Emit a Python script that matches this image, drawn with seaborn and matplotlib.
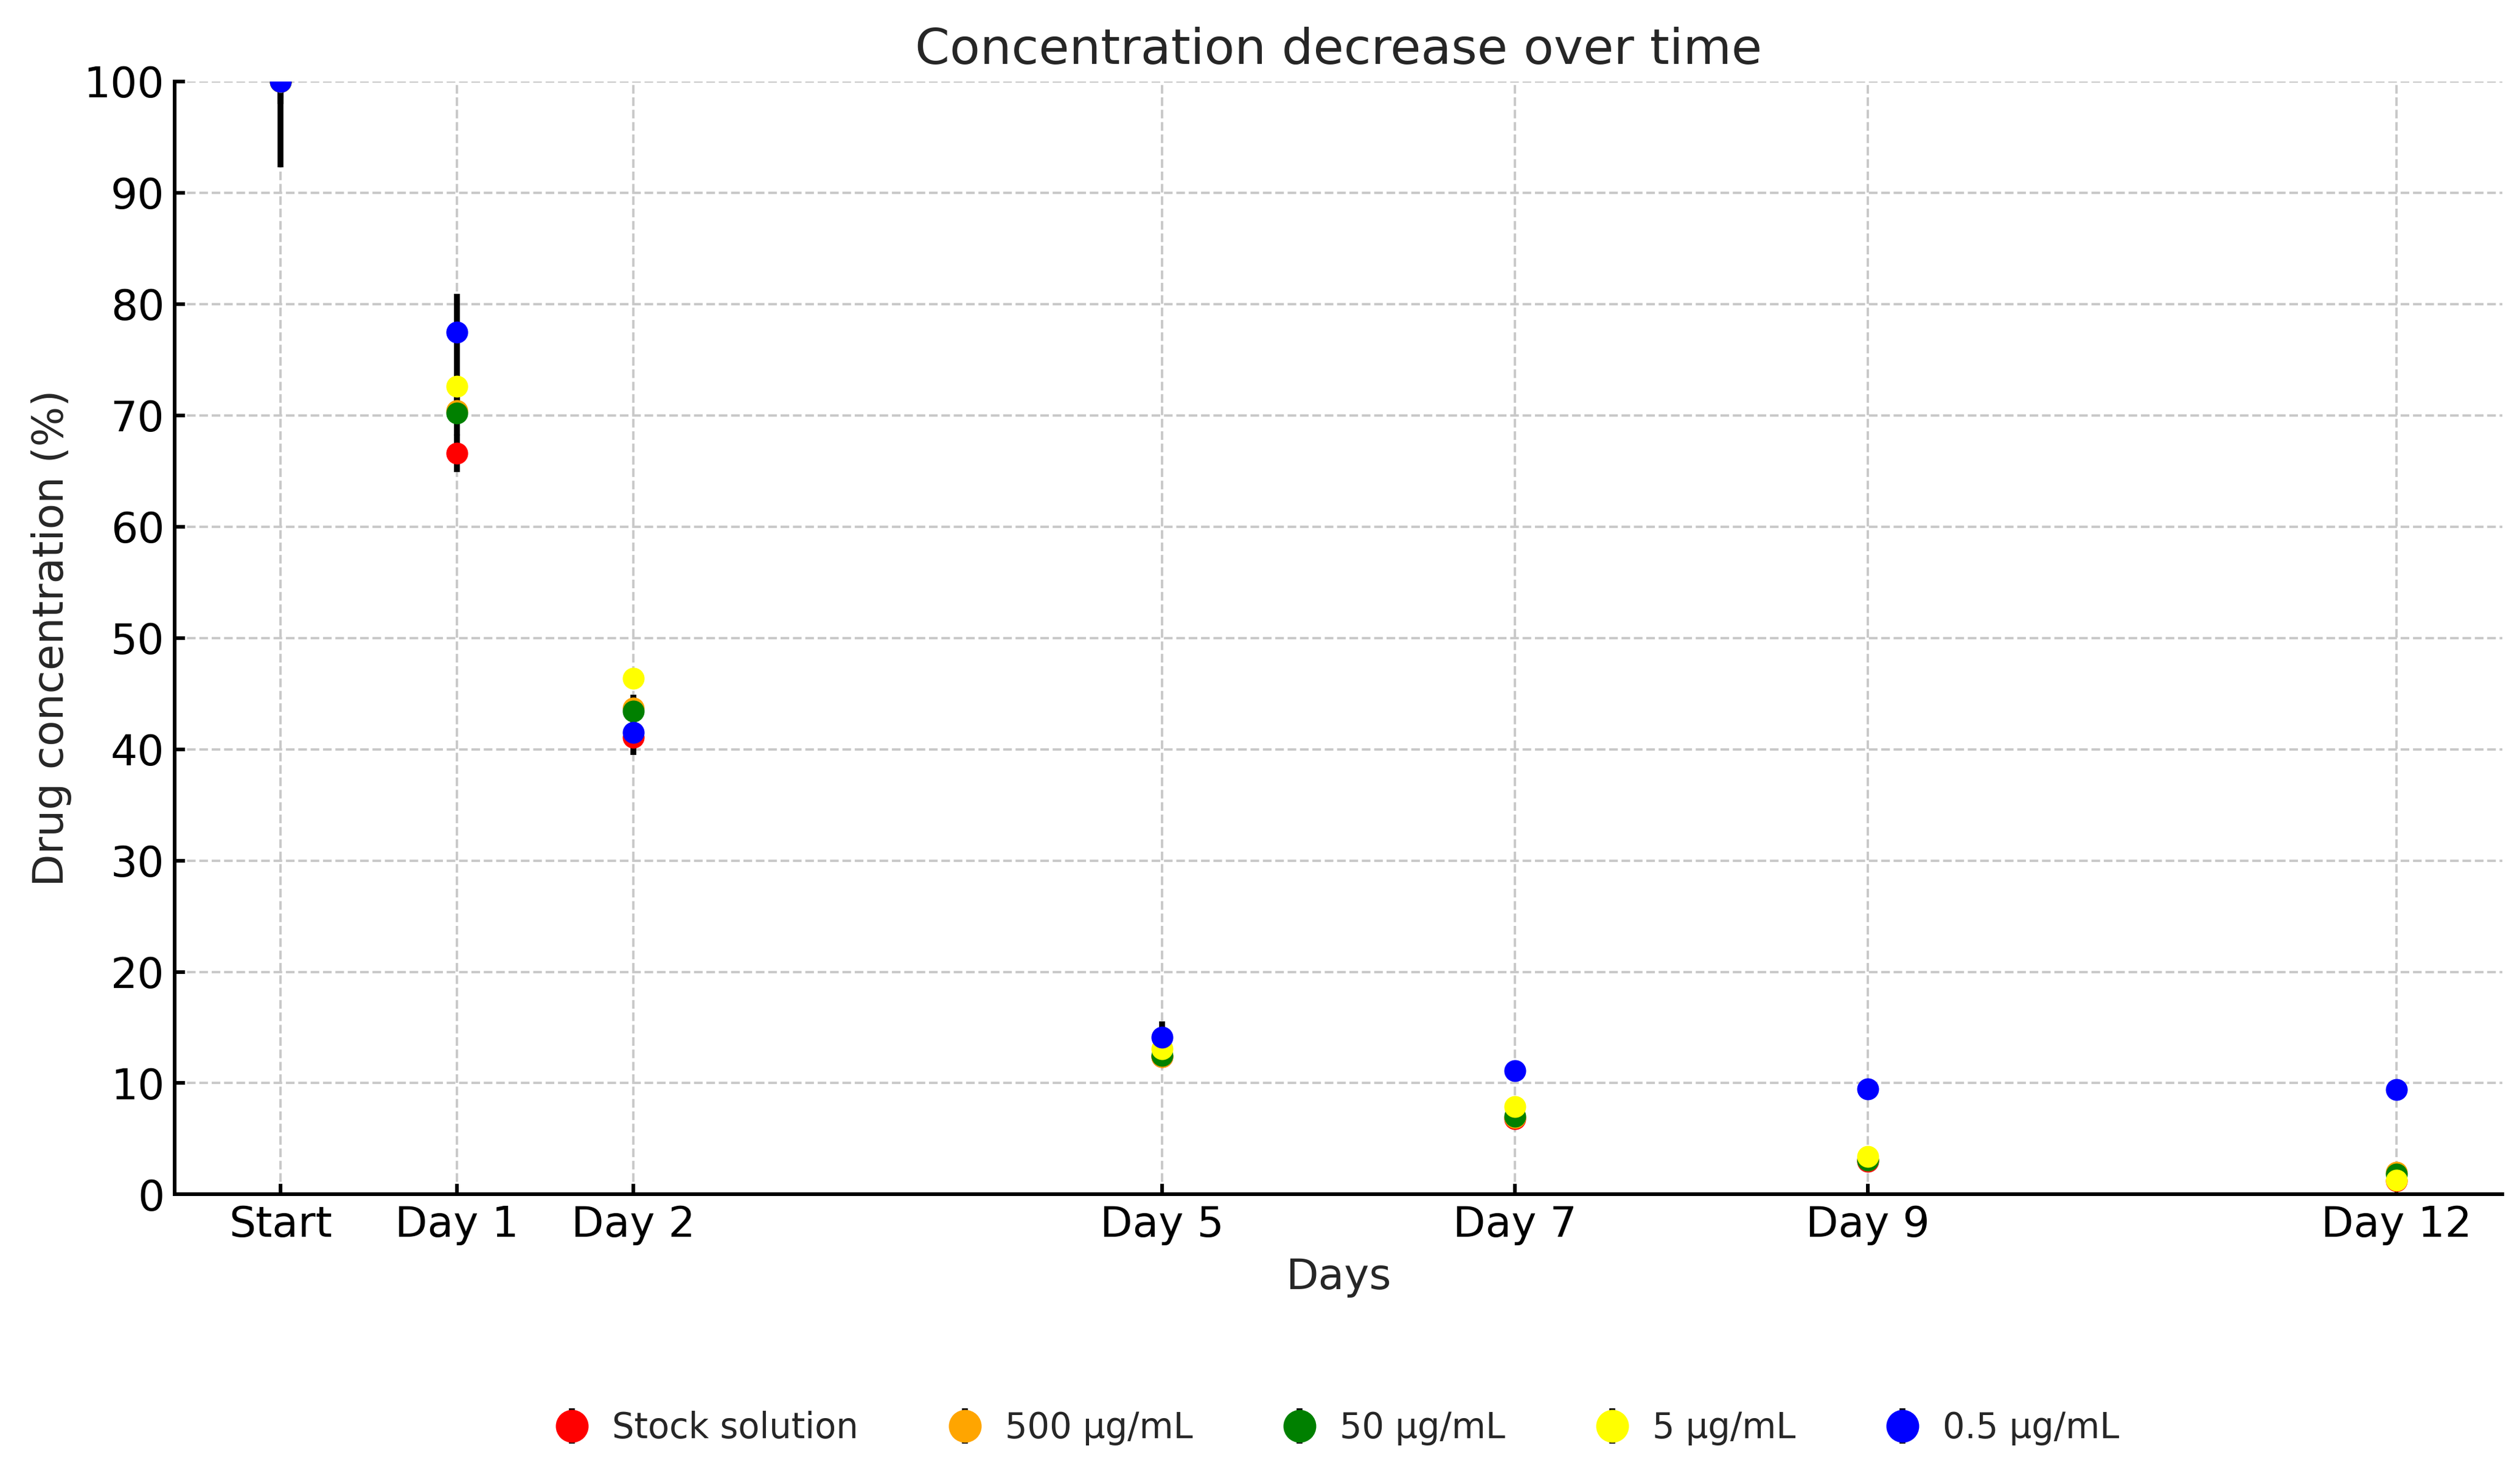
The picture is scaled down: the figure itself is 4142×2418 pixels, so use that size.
import matplotlib
matplotlib.use("Agg")
import matplotlib.pyplot as plt
import seaborn as sns
import numpy as np

# ---- data ----
days = [0, 1, 2, 5, 7, 9, 12]
day_labels = ["Start", "Day 1", "Day 2", "Day 5", "Day 7", "Day 9", "Day 12"]
series_names = ["Stock solution", "500 µg/mL", "50 µg/mL", "5 µg/mL", "0.5 µg/mL"]
series_colors = ["red", "orange", "green", "yellow", "blue"]

stock_mean = [100, 66.6, 41.1, 12.4, 6.8, 3.0, 1.2]
stock_err = [7.7, 1.7, 1.6, 1.0, 0.6, 0.5, 0.5]
c500_mean = [100, 70.4, 43.7, 12.4, 6.9, 3.1, 2.0]
c500_err = [2.0, 1.0, 1.0, 0.8, 0.5, 0.5, 0.5]
c50_mean = [100, 70.2, 43.4, 12.5, 7.0, 3.1, 1.8]
c50_err = [1.5, 2.0, 1.5, 0.8, 0.5, 0.5, 0.4]
c5_mean = [100, 72.6, 46.4, 13.1, 7.9, 3.4, 1.3]
c5_err = [1.0, 1.5, 0.8, 0.8, 0.5, 0.5, 0.4]
c05_mean = [100, 77.5, 41.5, 14.1, 11.1, 9.5, 9.4]
c05_err = [0.5, 3.4, 1.0, 1.45, 0.6, 0.6, 0.6]

means = [stock_mean, c500_mean, c50_mean, c5_mean, c05_mean]
errs = [stock_err, c500_err, c50_err, c5_err, c05_err]

# ---- style ----
sns.set_theme(style="ticks", rc={
    "axes.grid": True,
    "grid.linestyle": "--",
    "grid.color": "#c8c8c8",
    "grid.linewidth": 0.8,
    "axes.edgecolor": "black",
    "axes.linewidth": 1.25,
    "xtick.direction": "in",
    "ytick.direction": "in",
    "xtick.major.size": 3.5,
    "ytick.major.size": 3.5,
    "xtick.color": "black",
    "ytick.color": "black",
    "text.color": "#262626",
    "axes.labelcolor": "#262626",
})
plt.rcParams["font.family"] = ["DejaVu Sans"]

fig, ax = plt.subplots(figsize=(4142 / 345.17, 2418 / 345.17), dpi=345.17)
fig.subplots_adjust(left=0.0693, right=0.993, top=0.9446, bottom=0.188)

for name, color, m, e in zip(series_names, series_colors, means, errs):
    ax.errorbar(days, m, yerr=e, fmt="o", color=color, ecolor="black",
                elinewidth=2, capsize=0, markersize=7.5, markeredgewidth=0,
                label=name)

ax.set_ylim(0, 100)
ax.set_yticks(np.arange(0, 101, 10))
ax.set_xticks(days)
ax.set_xticklabels(day_labels)
ax.tick_params(labelsize=14.5)
ax.set_xlabel("Days", fontsize=14.5)
ax.set_ylabel("Drug concentration (%)", fontsize=14.5)
ax.set_title("Concentration decrease over time", fontsize=17)
sns.despine(ax=ax)

ax.legend(loc="center", bbox_to_anchor=(0.5, -0.21), ncol=5, frameon=False,
          fontsize=12, markerscale=1.5, handlelength=0.8, handletextpad=0.75,
          columnspacing=2.65)

fig.savefig("out.png", dpi=345.17)
